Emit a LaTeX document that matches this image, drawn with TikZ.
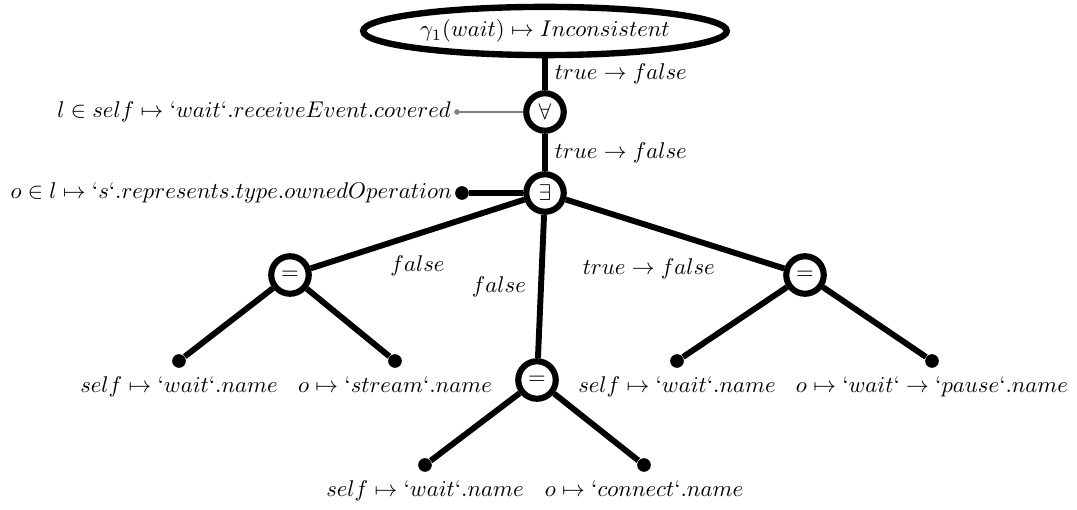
\documentclass[tikz,border=0pt]{standalone}
\usepackage{tikz}
\usetikzlibrary{positioning, shapes.geometric}

\begin{document}
\begin{tikzpicture}[
    x=0.44pt, y=-0.44pt,
    goal/.style={ellipse, draw, line width=2.8pt, inner xsep=-4pt, inner ysep=2.5pt, minimum width=160pt, minimum height=20pt},
    op/.style={circle, draw, fill=white, line width=2.7pt, minimum size=16.5pt, inner sep=0pt},
    leaf/.style={circle, fill, minimum size=6pt, inner sep=0pt},
    sideleaf/.style={circle, fill=gray, minimum size=2.5pt, inner sep=0pt},
    term/.style={inner sep=3.33pt},
    edge/.style={line width=2.6pt},
    thinedge/.style={gray, line width=0.8pt}
]
\useasboundingbox (0,0) rectangle (1077,510);

\node[goal] (goal) at (545,31) {$\gamma_1(wait) \mapsto Inconsistent$};
\node[op] (forall) at (545,112) {$\forall$};
\node[op] (exists) at (545,193) {$\exists$};
\node[op] (eqL) at (290,275) {$=$};
\node[op] (eqM) at (537,380) {$=$};
\node[op] (eqR) at (805,275) {$=$};

% side leaves
\node[sideleaf] (sideA) at (457,112) {};
\node[term, left=0pt of sideA, inner sep=1pt] (sideAt) {$l \in self \mapsto `wait`.receiveEvent.covered$};
\node[leaf] (sideE) at (462,193) {};
\node[term, left=0pt of sideE, inner sep=1pt] (sideEt) {$o \in l \mapsto `s`.represents.type.ownedOperation$};

% leaves
\node[leaf] (lL) at (179,361) {};
\node[leaf] (lR) at (395,361) {};
\node[leaf] (mL) at (425,465) {};
\node[leaf] (mR) at (644,465) {};
\node[leaf] (rL) at (677,361) {};
\node[leaf] (rR) at (932,361) {};
\node[term, below=0pt of lL] (lLt) {$self \mapsto `wait`.name$};
\node[term, below=0pt of lR] (lRt) {$o \mapsto `stream`.name$};
\node[term, below=0pt of mL] (mLt) {$self \mapsto `wait`.name$};
\node[term, below=0pt of mR] (mRt) {$o \mapsto `connect`.name$};
\node[term, below=0pt of rL] (rLt) {$self \mapsto `wait`.name$};
\node[term, below=0pt of rR] (rRt) {$o \mapsto `wait` \rightarrow `pause`.name$};

\draw[edge] (goal) -- node[right, inner sep=3pt] {$true \rightarrow false$} (forall);
\draw[edge] (forall) -- node[right, inner sep=3pt] {$true \rightarrow false$} (exists);
\draw[thinedge] (forall) -- (sideA);
\draw[edge] (exists) -- (sideE);

\draw[edge] (exists) -- node[below=5pt] {$false$} (eqL);
\draw[edge] (exists) -- node[left=2pt] {$false$} (eqM);
\draw[edge] (exists) -- node[pos=0.38, below=10pt] {$true \rightarrow false$} (eqR);

\draw[edge] (eqL) -- (lL);
\draw[edge] (eqL) -- (lR);
\draw[edge] (eqM) -- (mL);
\draw[edge] (eqM) -- (mR);
\draw[edge] (eqR) -- (rL);
\draw[edge] (eqR) -- (rR);
\end{tikzpicture}
\end{document}
